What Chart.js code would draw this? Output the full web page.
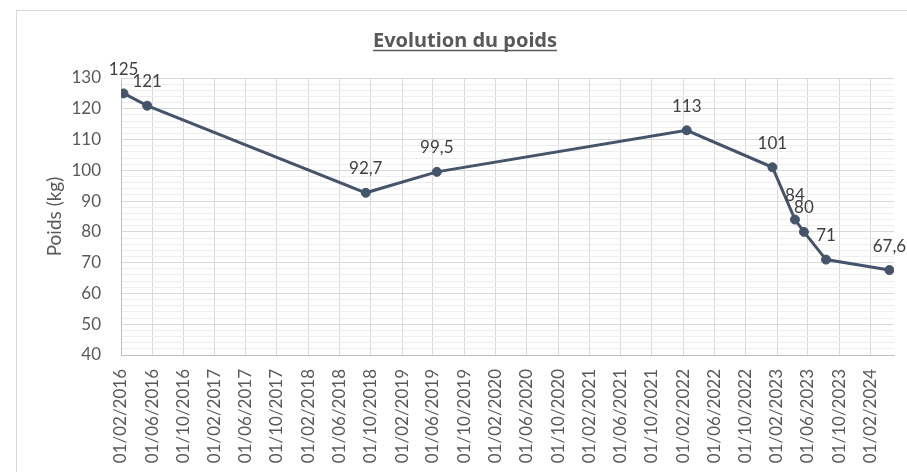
<!DOCTYPE html>
<html>
<head>
<meta charset="utf-8">
<script src="https://cdn.jsdelivr.net/npm/chart.js@4/dist/chart.umd.min.js"></script>
<style>
  html, body { margin: 0; padding: 0; background: #fff; overflow: hidden; }
  #frame { position: absolute; left: 16px; top: 10px; width: 1000px; height: 1000px; border: 1px solid #d9d9d9; }
  #wrap { position: absolute; left: 0; top: 0; width: 907px; height: 472px; }
</style>
</head>
<body>
<div id="frame"></div>
<div id="wrap"><canvas id="chart"></canvas></div>
<script>
// Dates of the weigh-ins (yyyy-mm-dd) and weights in kg
const dates = ["2016-02-11","2016-05-13","2018-09-12","2019-06-16","2022-02-14",
               "2023-01-14","2023-04-12","2023-05-17","2023-08-11","2024-04-14"];
const weights = [125, 121, 92.7, 99.5, 113, 101, 84, 80, 71, 67.6];

// Date axis labels (every 4 months), dd/mm/yyyy
const tickLabels = ["01/02/2016","01/06/2016","01/10/2016","01/02/2017","01/06/2017","01/10/2017",
  "01/02/2018","01/06/2018","01/10/2018","01/02/2019","01/06/2019","01/10/2019",
  "01/02/2020","01/06/2020","01/10/2020","01/02/2021","01/06/2021","01/10/2021",
  "01/02/2022","01/06/2022","01/10/2022","01/02/2023","01/06/2023","01/10/2023","01/02/2024"];
const xMin = "2016-02-01";
const xMax = "2024-05-02";

const TEXT = "#595959";
const LINE = "#44546a";
const FONT = "Lato, 'Noto Sans', sans-serif";

const toMs = s => {
  const [y, m, d] = s.split("-").map(Number);
  return Date.UTC(y, m - 1, d);
};
const labelToMs = s => {
  const [d, m, y] = s.split("/").map(Number);
  return Date.UTC(y, m - 1, d);
};

const points = dates.map((d, i) => ({ x: toMs(d), y: weights[i] }));

// Title with underline, centred on the whole chart frame
const titlePlugin = {
  id: "underlinedTitle",
  afterDraw(chart) {
    const ctx = chart.ctx;
    const text = "Evolution du poids";
    ctx.save();
    ctx.font = "bold 20px 'Noto Sans', sans-serif";
    ctx.fillStyle = TEXT;
    ctx.textAlign = "center";
    ctx.textBaseline = "alphabetic";
    const cx = 465, base = 47;
    ctx.fillText(text, cx, base);
    const w = ctx.measureText(text).width;
    ctx.strokeStyle = TEXT;
    ctx.lineWidth = 1.5;
    ctx.beginPath();
    ctx.moveTo(cx - w / 2, base + 3.5);
    ctx.lineTo(cx + w / 2, base + 3.5);
    ctx.stroke();
    ctx.restore();
  }
};

// Value labels above each point, French decimal comma
const valueLabels = {
  id: "valueLabels",
  afterDatasetsDraw(chart) {
    const ctx = chart.ctx;
    const meta = chart.getDatasetMeta(0);
    ctx.save();
    ctx.font = "17px " + FONT;
    ctx.fillStyle = "#404040";
    ctx.textAlign = "center";
    ctx.textBaseline = "middle";
    meta.data.forEach((pt, i) => {
      ctx.fillText(String(weights[i]).replace(".", ","), pt.x, pt.y - 24);
    });
    ctx.restore();
  }
};

new Chart(document.getElementById("chart"), {
  type: "line",
  data: {
    datasets: [{
      data: points,
      borderColor: LINE,
      backgroundColor: LINE,
      borderWidth: 3,
      pointRadius: 4.5,
      pointBorderWidth: 1,
      pointHoverRadius: 4.5,
      tension: 0
    }]
  },
  options: {
    responsive: true,
    maintainAspectRatio: false,
    animation: false,
    layout: { padding: { top: 78, right: 13, bottom: 0, left: 0 } },
    plugins: {
      legend: { display: false },
      title: { display: false },
      tooltip: { enabled: false }
    },
    scales: {
      x: {
        type: "linear",
        min: toMs(xMin),
        max: toMs(xMax),
        afterBuildTicks: scale => {
          scale.ticks = tickLabels.map(l => ({ value: labelToMs(l) }));
        },
        afterFit: scale => { scale.height = 117; },
        grid: { color: "#d9d9d9", drawTicks: false },
        border: { color: "#bfbfbf" },
        ticks: {
          autoSkip: false,
          minRotation: 90,
          maxRotation: 90,
          padding: 14,
          color: TEXT,
          font: { family: FONT, size: 17 },
          callback: (v, i) => tickLabels[i]
        }
      },
      y: {
        min: 40,
        max: 130,
        afterFit: scale => { scale.width = 121; },
        grid: {
          drawTicks: false,
          color: ctx => (ctx.tick && ctx.tick.value % 10 === 0) ? "#d9d9d9" : "#eeeeee"
        },
        border: { color: "#bfbfbf" },
        ticks: {
          stepSize: 2,
          autoSkip: false,
          padding: 20,
          color: TEXT,
          font: { family: FONT, size: 17 },
          callback: v => (v % 10 === 0 ? v : "")
        },
        title: {
          display: true,
          text: "Poids (kg)",
          color: TEXT,
          font: { family: FONT, size: 19 },
          padding: { top: 43, bottom: 0 }
        }
      }
    }
  },
  plugins: [titlePlugin, valueLabels]
});
</script>
</body>
</html>
